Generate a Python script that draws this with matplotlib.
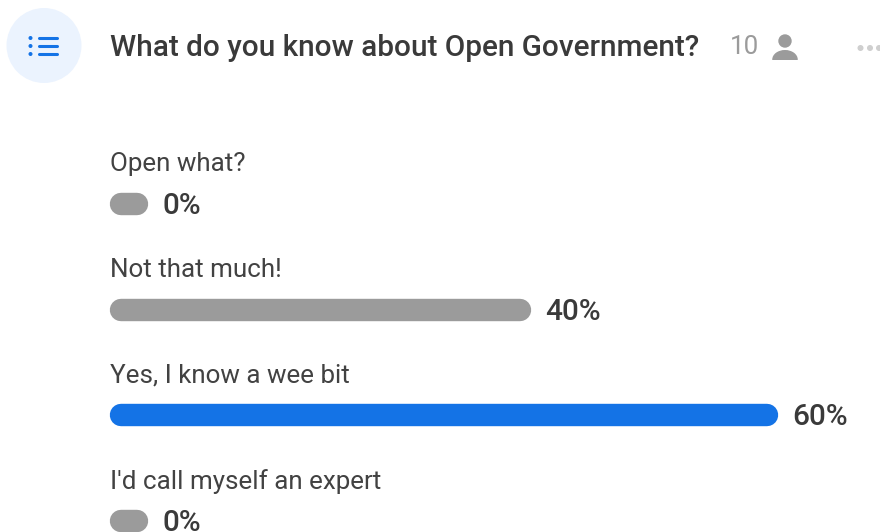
import matplotlib
matplotlib.use('Agg')
import matplotlib.pyplot as plt
from matplotlib.patches import Circle, Ellipse, Rectangle

plt.rcParams['font.family'] = ['Roboto', 'DejaVu Sans']

# poll data
title = 'What do you know about Open Government?'
voters = '10'
answers = ['Open what?', 'Not that much!', 'Yes, I know a wee bit', "I'd call myself an expert"]
percents = [0, 40, 60, 0]
# drawn lengths, the poll keeps a minimum width for 0%
bar_lengths = [3.4, 37.8, 60, 3.4]
bar_colors = ['#9b9b9b', '#9b9b9b', '#1473e6', '#9b9b9b']

W, H = 880, 532
fig = plt.figure(figsize=(W / 100, H / 100), dpi=100)

# page axes in pixels for header and icons
page = fig.add_axes([0, 0, 1, 1])
page.set_xlim(0, W)
page.set_ylim(H, 0)
page.axis('off')

page.add_patch(Circle((44, 45.5), 37.5, color='#ebf3fe', lw=0))
for y in [38, 46, 54]:
    page.add_patch(Circle((30.5, y), 2, color='#1473e6', lw=0))
    page.plot([38.5, 57], [y, y], color='#1473e6', lw=2.2, solid_capstyle='round')

page.text(110, 44.5, title, fontsize=21.4, fontweight='medium', color='#3a3a3a', va='center_baseline')
page.text(730, 45, voters, fontsize=18.75, color='#9b9b9b', va='center_baseline')

# person icon, body is a dome cut off flat at the bottom
page.add_patch(Circle((785, 41), 6.7, color='#9b9b9b', lw=0))
body = Ellipse((785, 59.5), 25.5, 19, color='#9b9b9b', lw=0)
page.add_patch(body)
body.set_clip_path(Rectangle((770, 48), 30, 11.5, transform=page.transData))

for x in [860.5, 870, 879]:
    page.add_patch(Circle((x, 48), 3, color='#cfcfcf', lw=0))

# bars, x in percent and y in rows
ax = fig.add_axes([110 / W, 1 - 521 / H, (778 - 110) / W, (521 - 204) / H])
ax.set_xlim(0, 60)
ax.set_ylim(3, 0)
ax.axis('off')

px_x = (778 - 110) / 60
r = 11.2 / px_x

for i, (name, pct, length, col) in enumerate(zip(answers, percents, bar_lengths, bar_colors)):
    # round caps stick out by half the line width
    ax.plot([r, length - r], [i, i], color=col, lw=22.4 * 0.72, solid_capstyle='round', clip_on=False)
    ax.annotate(name, (0, i), xytext=(0, 42), textcoords='offset pixels',
                fontsize=18.75, color='#424242', va='center_baseline', annotation_clip=False)
    ax.annotate('%d%%' % pct, (length, i), xytext=(14.5, 1), textcoords='offset pixels',
                fontsize=21.4, fontweight='medium', color='#3a3a3a', va='center_baseline',
                annotation_clip=False)

fig.savefig('out.png', dpi=100)
